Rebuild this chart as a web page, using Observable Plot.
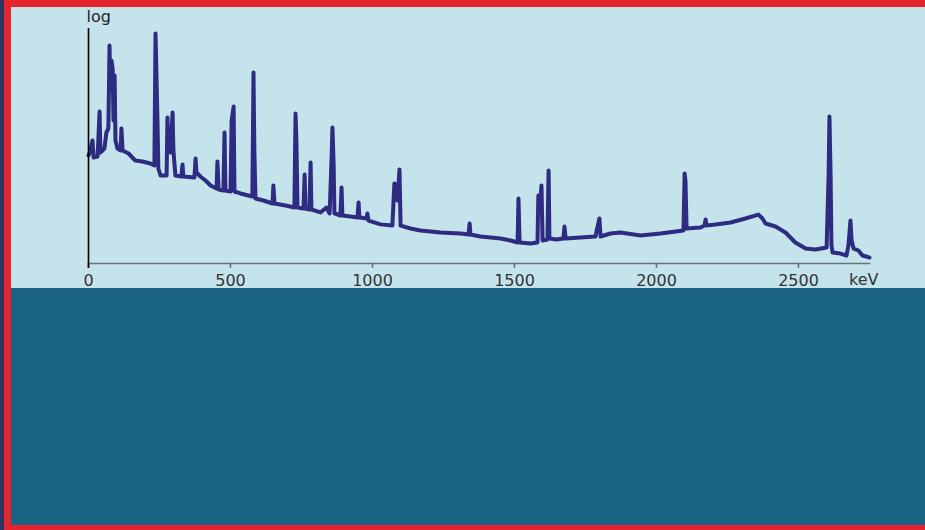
<!DOCTYPE html>
<html>
<head>
<meta charset="utf-8">
<script src="https://cdn.jsdelivr.net/npm/d3@7"></script>
<script src="https://cdn.jsdelivr.net/npm/@observablehq/plot@0.6"></script>
<style>
  html, body { margin: 0; padding: 0; }
  body { width: 925px; height: 530px; position: relative; overflow: hidden; background: #e5242d; }
  #navy { position: absolute; left: 0; top: 0; width: 4px; height: 530px; background: #2c3462; z-index: 2; }
  #upper { position: absolute; left: 11px; top: 7px; width: 914px; height: 281px; background: #c5e3ea; }
  #lower { position: absolute; left: 11px; top: 288px; width: 914px; height: 237px; background: #196281; }
  #upper svg { display: block; }
</style>
</head>
<body>
<div id="navy"></div>
<div id="upper"></div>
<div id="lower"></div>
<script>
// Gamma spectrum (log counts vs energy in keV)
const energyKeV = [
  0,7,14,18,32,39,42,56,63,70,
  74,77,81,85,88,92,95,102,113,116,
  120,141,165,190,218,232,236,243,246,254,
  275,278,282,289,296,299,306,327,331,334,
  373,377,380,394,412,430,451,454,458,475,
  479,482,500,504,511,514,535,577,581,584,
  588,616,648,651,655,694,725,729,732,736,
  757,761,764,778,782,785,817,838,849,856,
  859,863,866,887,891,894,923,947,951,954,
  979,982,986,1028,1070,1077,1084,1088,1095,1099,
  1134,1169,1239,1310,1338,1342,1345,1380,1451,1486,
  1511,1514,1518,1556,1581,1584,1591,1595,1599,1616,
  1620,1623,1648,1672,1676,1680,1732,1785,1799,1803,
  1838,1873,1944,2014,2095,2099,2102,2106,2155,2169,
  2173,2176,2208,2261,2313,2359,2373,2384,2419,2454,
  2489,2525,2560,2599,2606,2609,2613,2616,2620,2648,
  2669,2676,2683,2687,2694,2711,2725,2739,2750
];
const counts = [
  1990,2540,4140,1800,1890,17100,2300,2800,6130,7450,
  435000,48000,208000,141000,11000,100000,4140,2800,2540,7450,
  2540,2190,1550,1480,1340,1220,783000,10000,1050,745,
  745,12800,2540,2300,16300,2540,745,710,1280,710,
  676,1710,863,710,583,457,394,1480,375,358,
  6130,358,340,11000,21900,340,309,266,116000,2540,
  242,219,189,457,189,171,155,15500,4140,155,
  148,783,148,141,1410,141,122,155,116,1800,
  7830,1410,116,105,414,105,100,95,199,95,
  91,116,82,68,64,504,457,219,1000,64,
  55.5,50.4,45.7,43.5,41.4,71,41.4,37.5,34,30.9,
  28,242,28,26.6,28,280,219,457,30.9,32.4,
  952,34,32.4,34,61.3,34,35.8,37.5,90.7,37.5,
  43.5,45.7,39.4,43.5,50.4,822,583,55.5,58.3,64.4,
  86.3,64.4,67.6,74.5,90.7,110,90.7,71,61.3,45.7,
  28,20.8,19.9,21.9,745,13400,745,24.2,17.1,16.3,
  14.8,24.2,82.2,30.9,20.8,18.9,14.8,14.1,13.4
];
const xTicks = [0, 500, 1000, 1500, 2000, 2500];
const xUnit = "keV";
const yLabel = "log";

const spectrum = energyKeV.map((e, i) => ({keV: e, counts: counts[i]}));

const chart = Plot.plot({
  width: 914,
  height: 281,
  marginLeft: 77,
  marginRight: 56,
  marginTop: 21,
  marginBottom: 25,
  style: {background: "transparent", fontFamily: "DejaVu Sans, sans-serif", fontSize: "16px", overflow: "visible"},
  x: {domain: [0, 2750], axis: null},
  y: {type: "log", domain: [10, 1e6], axis: null},
  marks: [
    Plot.frame({anchor: "bottom", stroke: "#66767c", strokeWidth: 1.6}),
    Plot.axisX({ticks: xTicks, tickSize: 5, tickPadding: 6, stroke: "#66767c", strokeWidth: 1.6, fill: "#333", label: null, tickFormat: d => String(d), fontSize: 16}),
    Plot.line(spectrum, {x: "keV", y: "counts", stroke: "#2e2b82", strokeWidth: 4, strokeLinejoin: "round"}),
    Plot.ruleX([0], {stroke: "#000", strokeWidth: 1.6, insetBottom: -5}),
    Plot.text([yLabel], {frameAnchor: "top-left", textAnchor: "start", lineAnchor: "bottom", dx: -2, dy: -7, fill: "#222", fontSize: 16}),
    Plot.text([xUnit], {frameAnchor: "bottom-right", textAnchor: "end", lineAnchor: "middle", dx: 9, dy: 16, fill: "#333", fontSize: 16})
  ]
});
document.getElementById("upper").appendChild(chart);
</script>
</body>
</html>
